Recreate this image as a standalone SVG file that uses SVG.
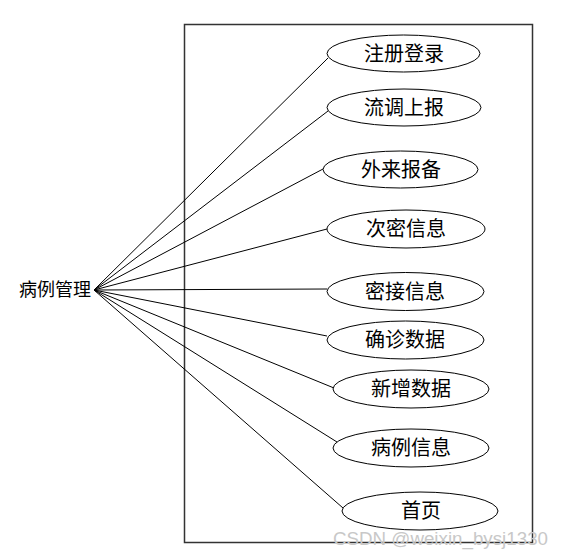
<svg xmlns="http://www.w3.org/2000/svg" width="564" height="558" viewBox="0 0 564 558">
<style>
.uc ellipse{fill:#fff;stroke:#000;stroke-width:1}
.t{font-family:"Liberation Serif","Noto Sans CJK SC",serif;font-size:20px;fill:#000;text-anchor:middle;dominant-baseline:central}
#edges line{stroke:#000;stroke-width:1}
</style>
<rect x="184.5" y="24.5" width="348" height="518" fill="none" stroke="#333" stroke-width="1.5"/>
<g id="edges">
<line x1="94" y1="290" x2="328" y2="58"/>
<line x1="94" y1="290" x2="328" y2="111"/>
<line x1="94" y1="290" x2="323" y2="169"/>
<line x1="94" y1="290" x2="327" y2="229"/>
<line x1="94" y1="290" x2="327" y2="289"/>
<line x1="94" y1="290" x2="327" y2="336"/>
<line x1="94" y1="290" x2="334" y2="388"/>
<line x1="94" y1="290" x2="337" y2="442"/>
<line x1="94" y1="290" x2="343" y2="508"/>
</g>
<g id="actor"><text class="t" x="55" y="290" style="font-size:18px">病例管理</text></g>
<g id="uc1" class="uc"><ellipse cx="403.5" cy="53.5" rx="76.5" ry="18.5"/><text class="t" x="404" y="54">注册登录</text></g>
<g id="uc2" class="uc"><ellipse cx="404" cy="107.5" rx="77" ry="18.5"/><text class="t" x="404" y="108">流调上报</text></g>
<g id="uc3" class="uc"><ellipse cx="400.5" cy="169.5" rx="77.5" ry="18.5"/><text class="t" x="401" y="170">外来报备</text></g>
<g id="uc4" class="uc"><ellipse cx="406" cy="229" rx="79" ry="19"/><text class="t" x="406" y="229">次密信息</text></g>
<g id="uc5" class="uc"><ellipse cx="405.5" cy="291.5" rx="78.5" ry="19"/><text class="t" x="405" y="292">密接信息</text></g>
<g id="uc6" class="uc"><ellipse cx="405.5" cy="340" rx="78.5" ry="19"/><text class="t" x="405" y="340">确诊数据</text></g>
<g id="uc7" class="uc"><ellipse cx="411" cy="389" rx="78" ry="19"/><text class="t" x="411" y="389">新增数据</text></g>
<g id="uc8" class="uc"><ellipse cx="411" cy="448" rx="78" ry="19"/><text class="t" x="411" y="448">病例信息</text></g>
<g id="uc9" class="uc"><ellipse cx="420" cy="511" rx="78" ry="19"/><text class="t" x="421" y="511">首页</text></g>
<text x="333" y="545" font-family="Liberation Sans, Arial, sans-serif" font-size="18" fill="#c8c8c8" textLength="215" lengthAdjust="spacingAndGlyphs">CSDN @weixin_bysj1330</text>
</svg>
